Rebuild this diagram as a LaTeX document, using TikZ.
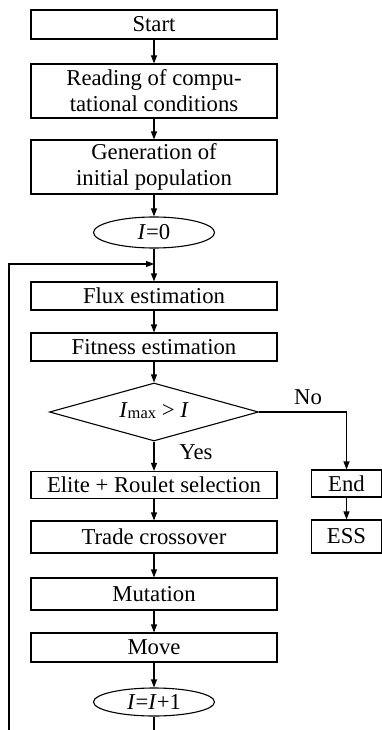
\documentclass[tikz,border=0pt]{standalone}
\usepackage{fontspec}
\setmainfont{Liberation Serif}
\usetikzlibrary{shapes.geometric,arrows.meta,calc}
\begin{document}
\begin{tikzpicture}[x=1pt,y=-1pt,
  every node/.style={font=\fontsize{22.7}{26}\selectfont, inner sep=0pt},
  box/.style={draw, line width=1.1pt, rectangle, minimum width=246pt, align=center},
  oval/.style={draw, line width=1.1pt, ellipse, minimum width=121pt},
  dec/.style={draw, line width=1.1pt, diamond, aspect=3.6, minimum width=209pt, minimum height=58pt},
  conn/.style={line width=1.1pt, -{Triangle[length=8pt,width=6pt]}},
  plain/.style={line width=1.1pt}]
\useasboundingbox (0,0) rectangle (382,730);
\node[box, minimum height=29pt] (start) at (154,24.5) {Start};
\node[box, minimum height=54pt] (read) at (154,91) {Reading of compu-\\tational conditions};
\node[box, minimum height=54pt] (gen) at (154,167) {Generation of\\initial population};
\node[oval, minimum height=31pt] (i0) at (154,232.5) {\textit{I}=0};
\node[box, minimum height=28pt] (flux) at (154,296) {Flux estimation};
\node[box, minimum height=28pt] (fit) at (154,347) {Fitness estimation};
\node[dec] (dec) at (154,412) {\raisebox{3pt}{\textit{I}\raisebox{-0.5pt}{\fontsize{16.5}{16}\selectfont max} > \textit{I}}};
\node[box, minimum height=27pt] (elite) at (154,485) {Elite + Roulet selection};
\node[box, minimum height=32pt] (trade) at (154,537) {Trade crossover};
\node[box, minimum height=32pt] (mut) at (154,594) {Mutation};
\node[box, minimum height=29pt] (move) at (154,647.5) {Move};
\node[oval, minimum height=28pt] (inc) at (154,702) {\textit{I}=\textit{I}+1};
\node[draw, line width=1.1pt, minimum width=70pt, minimum height=27pt] (end) at (346.5,483.5) {End};
\node[draw, line width=1.1pt, minimum width=70pt, minimum height=33pt] (ess) at (346.5,536.5) {ESS};
\node (no) at (308,397) {No};
\node (yes) at (196,452) {Yes};
\coordinate (join) at (154,264);
\coordinate (bot) at (154,730);
\coordinate (lb) at (9,730);
\coordinate (lt) at (9,264);
\draw[conn] (start) -- (read);
\draw[conn] (read) -- (gen);
\draw[conn] (gen) -- (i0);
\draw[conn] (i0) -- (flux);
\draw[conn] (flux) -- (fit);
\draw[conn] (fit) -- (dec);
\draw[conn] (dec) -- (elite);
\draw[conn] (elite) -- (trade);
\draw[conn] (trade) -- (mut);
\draw[conn] (mut) -- (move);
\draw[conn] (move) -- (inc);
\draw[plain] (inc) -- (bot);
\draw[conn] (lb) -- (lt) -- (join);
\draw[conn] (dec.east) -| (end.north);
\draw[conn] (end) -- (ess);
\end{tikzpicture}
\end{document}
